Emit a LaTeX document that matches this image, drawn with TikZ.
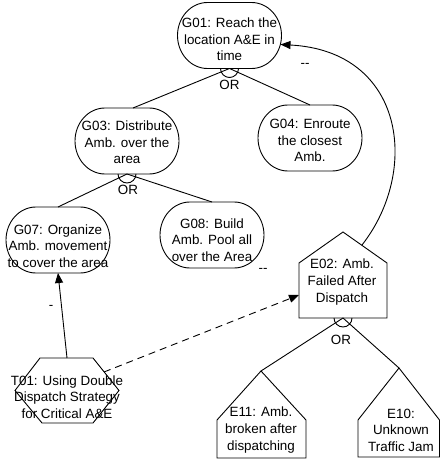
\documentclass[tikz,border=0pt]{standalone}
\usepackage{fontspec}
\setmainfont{Liberation Sans}
\usetikzlibrary{arrows.meta}

% outline of a goal: a box with round sides
\newcommand{\goalline}[1]{%
  \draw ([xshift=30pt]#1.north west) -- ([xshift=-30pt]#1.north east)
    arc[start angle=90,end angle=-90,x radius=30,y radius=33]
    -- ([xshift=30pt]#1.south west)
    arc[start angle=270,end angle=90,x radius=30,y radius=33] -- cycle;}

\begin{document}
\begin{tikzpicture}[x=1pt,y=1pt,line width=0.9pt,
  every node/.style={font=\fontsize{13.4}{16.6}\selectfont,align=center,inner sep=1pt},
  goal/.style={minimum width=104pt,minimum height=66pt,outer sep=0pt},
  tip/.style={-{Triangle[length=10pt,width=8pt]}}]

\useasboundingbox (0,0) rectangle (440,461);

\path (67,103) coordinate (T01top);
\path (104,89) coordinate (T01ne);

\path (343,229) coordinate (E02top);
\path (362,216) coordinate (E02roof);
\path (299,166) coordinate (E02west);
\path (343,143) coordinate (E02bot);

\path (261,90) coordinate (E11top);
\path (399,93) coordinate (E10top);

% goals
\node[goal] (G01) at (229.5,425.5) {};
\node (G01t) at (229.5,421.5) {G01: Reach the\\location A\&E in\\time};
\node[goal] (G03) at (127,320) {};
\node (G03t) at (127,318.5) {G03: Distribute\\Amb. over the\\area};
\node[goal] (G04) at (310,323) {};
\node (G04t) at (310,320.5) {G04: Enroute\\the closest\\Amb.};
\node[goal] (G07) at (58,221) {};
\node (G07t) at (58,215) {G07: Organize\\Amb. movement\\to cover the area};
\node[goal] (G08) at (212,226) {};
\node (G08t) at (212,221) {G08: Build\\Amb. Pool all\\over the Area};

\goalline{G01}
\goalline{G03}
\goalline{G04}
\goalline{G07}
\goalline{G08}

% tasks and events
\draw (15,70.5) -- (40,103) -- (93,103) -- (119,70.5) -- (93,38) -- (42,38) -- cycle;
\node (T01) at (67,64) {T01: Using Double\\Dispatch Strategy\\for Critical A\&E};

\draw (299,143) -- (299,198) -- (E02top) -- (387,198) -- (387,143) -- cycle;
\node (E02) at (342,179) {E02: Amb.\\Failed After\\Dispatch};

\draw (217,3) -- (217,41) -- (E11top) -- (306,41) -- (306,3) -- cycle;
\node (E11) at (261,31) {E11: Amb.\\broken after\\dispatching};

\draw (358,4) -- (358,41) -- (E10top) -- (439.5,41) -- (439.5,4) -- cycle;
\node (E10) at (401,31) {E10:\\Unknown\\Traffic Jam};

% OR refinements
\draw (G01.south) -- ([xshift=6pt]G03.north);
\draw (G01.south) -- (G04.north);
\draw ([xshift=-9pt]G01.south) arc[start angle=180,end angle=360,radius=9];
\node (or1) at (229.5,376) {OR};

\draw (G03.south) -- (G07.north);
\draw (G03.south) -- (G08.north);
\draw ([xshift=-9pt]G03.south) arc[start angle=180,end angle=360,radius=9];
\node (or2) at (128,271) {OR};

\draw (E02bot) -- (E11top);
\draw (E02bot) -- (E10top);
\draw ([xshift=-9pt]E02bot) arc[start angle=180,end angle=360,radius=9];
\node (or3) at (341,121) {OR};

% contributions
\draw [tip] (E02roof) .. controls (420,290) and (405,410) .. ([xshift=-1pt,yshift=-9pt]G01.east);
\node (c1) at (305,396) {{-}{-}};

\draw [tip] (T01top) -- (G07.south);
\node (c2) at (51,154) {-};

\draw [tip,dash pattern=on 7pt off 5pt] (T01ne) -- (E02west);
\node (c3) at (263,191) {{-}{-}};
\end{tikzpicture}
\end{document}
